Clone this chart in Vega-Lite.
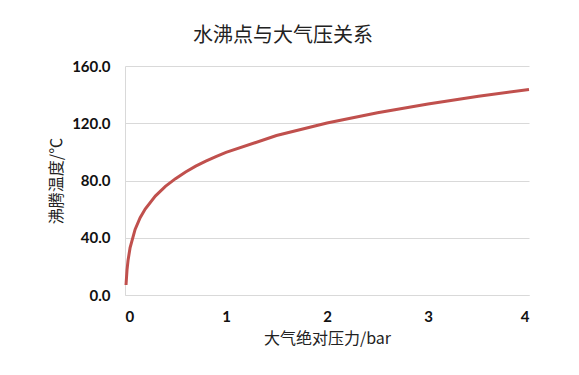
{
  "$schema": "https://vega.github.io/schema/vega-lite/v6.json",
  "autosize": "none",
  "width": 404,
  "height": 229,
  "padding": {"left": 125, "top": 66, "right": 50, "bottom": 80},
  "background": "white",
  "title": {
    "text": "水沸点与大气压关系",
    "font": "Noto Sans CJK SC",
    "fontSize": 20,
    "fontWeight": "normal",
    "color": "#222222",
    "anchor": "middle",
    "dx": -44,
    "offset": 13
  },
  "data": {
    "values": [
      {"p": 0.01, "t": 7.0},
      {"p": 0.02, "t": 17.5},
      {"p": 0.03, "t": 24.1},
      {"p": 0.05, "t": 32.9},
      {"p": 0.1, "t": 45.8},
      {"p": 0.15, "t": 54.0},
      {"p": 0.2, "t": 60.1},
      {"p": 0.3, "t": 69.1},
      {"p": 0.4, "t": 75.9},
      {"p": 0.5, "t": 81.3},
      {"p": 0.6, "t": 86.0},
      {"p": 0.7, "t": 90.0},
      {"p": 0.8, "t": 93.5},
      {"p": 0.9, "t": 96.7},
      {"p": 1.0, "t": 99.6},
      {"p": 1.5, "t": 111.4},
      {"p": 2.0, "t": 120.2},
      {"p": 2.5, "t": 127.4},
      {"p": 3.0, "t": 133.5},
      {"p": 3.5, "t": 138.9},
      {"p": 4.0, "t": 143.6}
    ]
  },
  "mark": {"type": "line", "color": "#C0504D", "strokeWidth": 3},
  "encoding": {
    "x": {
      "field": "p",
      "type": "quantitative",
      "scale": {"domain": [0, 4], "nice": false},
      "axis": {
        "title": "大气绝对压力/bar",
        "values": [0, 1, 2, 3, 4],
        "format": "d",
        "grid": false,
        "ticks": false,
        "domain": true,
        "domainColor": "#d9d9d9",
        "labelPadding": 14,
        "titlePadding": 6
      }
    },
    "y": {
      "field": "t",
      "type": "quantitative",
      "scale": {"domain": [0, 160], "nice": false},
      "axis": {
        "title": "沸腾温度/℃",
        "values": [0, 40, 80, 120, 160],
        "format": ".1f",
        "grid": true,
        "gridColor": "#d9d9d9",
        "ticks": false,
        "domain": true,
        "domainColor": "#d9d9d9",
        "labelPadding": 15,
        "titlePadding": 7
      }
    }
  },
  "config": {
    "view": {"stroke": null},
    "axis": {
      "labelFont": "Lato",
      "labelFontSize": 15,
      "labelFontWeight": "bold",
      "labelColor": "#111111",
      "titleFont": "Noto Sans CJK SC",
      "titleFontSize": 16,
      "titleFontWeight": "normal",
      "titleColor": "#222222"
    }
  }
}
